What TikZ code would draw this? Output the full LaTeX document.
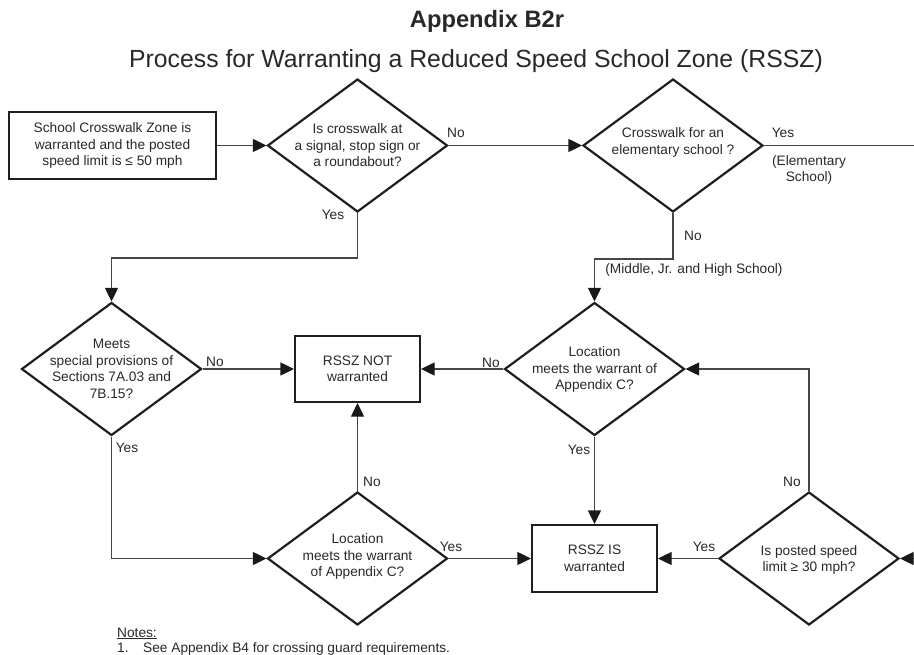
\documentclass[tikz,border=0pt]{standalone}
\usepackage{fontspec}
\setmainfont{Liberation Sans}
\usetikzlibrary{shapes.geometric,arrows.meta}
\definecolor{txt}{RGB}{40,40,40}
\definecolor{lin}{RGB}{70,70,70}
\tikzset{
  base/.style={font=\fontsize{13.7}{16.5}\selectfont, text=txt},
  box/.style={draw=black!88, line width=2.2pt, rectangle, inner sep=0pt},
  dia/.style={draw=black!88, line width=2.2pt, diamond, inner sep=0pt,
              minimum width=180pt, minimum height=133pt},
  dtext/.style={base, align=center},
  conn/.style={draw=lin, line width=1.2pt, -{Triangle[length=13.5pt,width=13pt,color=black!90]}},
  plain/.style={draw=lin, line width=1.2pt},
  lab/.style={base, inner sep=0pt}
}
\begin{document}
\begin{tikzpicture}[x=1pt,y=-1pt]
\useasboundingbox (0,0) rectangle (914,655);
% titles
\node[anchor=base, font=\fontsize{23.7}{28}\selectfont\bfseries, text=txt] (title) at (487,28) {Appendix B2r};
\node[anchor=base, font=\fontsize{24.8}{30}\selectfont, text=txt] (subtitle) at (476,68) {Process for Warranting a Reduced Speed School Zone (RSSZ)};
% nodes
\node[box, minimum width=207pt, minimum height=67pt, dtext] (start) at (112.5,145.5) {School Crosswalk Zone is\\warranted and the posted\\speed limit is ≤ 50 mph};
\node[dia] (d1) at (357.5,145.5) {};
\node[dtext] (d1t) at (357.5,145.5) {Is crosswalk at\\a signal, stop sign or\\a roundabout?};
\node[dia] (d2) at (673,145.5) {};
\node[dtext] (d2t) at (673,142.5) {Crosswalk for an\\elementary school ?};
\node[dia] (d4) at (111.5,369) {};
\node[dtext] (d4t) at (111.5,369) {Meets\\special provisions of\\Sections 7A.03 and\\7B.15?};
\node[box, minimum width=125pt, minimum height=66pt, dtext] (notw) at (357.5,369) {RSSZ NOT\\warranted};
\node[dia] (d3) at (594.5,369) {};
\node[dtext] (d3t) at (594.5,369.5) {Location\\meets the warrant of\\Appendix C?};
\node[dia] (d6) at (357.5,558.5) {};
\node[dtext] (d6t) at (357.5,556.5) {Location\\meets the warrant\\of Appendix C?};
\node[box, minimum width=125pt, minimum height=67pt, dtext] (isw) at (594.5,558.5) {RSSZ IS\\warranted};
\node[dia] (d5) at (809,558.5) {};
\node[dtext] (d5t) at (809,560) {Is posted speed\\limit ≥ 30 mph?};
\coordinate (e1) at (914,145.5);
\coordinate (e2) at (914,558.5);
% connectors
\draw[conn] (start.east) -- (d1.west);
\draw[conn] (d1.east) -- (d2.west);
\draw[plain] (d2.east) -- (e1);
\draw[conn] (d1.south) -- ++(0,45) -| (d4.north);
\draw[conn] (d2.south) -- ++(0,46) -| (d3.north);
\draw[conn] (d4.east) -- (notw.west);
\draw[conn] (d3.west) -- (notw.east);
\draw[conn] (d4.south) |- (d6.west);
\draw[conn] (d6.north) -- (notw.south);
\draw[conn] (d6.east) -- (isw.west);
\draw[conn] (d3.south) -- (isw.north);
\draw[conn] (d5.west) -- (isw.east);
\draw[conn] (d5.north) |- (d3.east);
\draw[conn] (e2) -- (d5.east);
% labels
\node[lab] (l1) at (456,133) {No};
\node[lab] (l2) at (333,215) {Yes};
\node[lab] (l3) at (783,133) {Yes};
\node[lab, align=center] (l4) at (809,170) {(Elementary\\School)};
\node[lab] (l5) at (693,236) {No};
\node[lab] (l6) at (694,270) {(Middle, Jr. and High School)};
\node[lab] (l7) at (215,362) {No};
\node[lab] (l8) at (127,448) {Yes};
\node[lab] (l9) at (491,363) {No};
\node[lab] (l10) at (579,450) {Yes};
\node[lab] (l11) at (372,482) {No};
\node[lab] (l12) at (792,482) {No};
\node[lab] (l13) at (704,547) {Yes};
\node[lab] (l14) at (451,547) {Yes};
% notes
\node[lab, anchor=base west] (n0) at (117,637) {\underline{Notes:}};
\node[lab, anchor=base west] (n1) at (117,652) {1.};
\node[lab, anchor=base west] (n2) at (143,652) {See Appendix B4 for crossing guard requirements.};
\end{tikzpicture}
\end{document}
